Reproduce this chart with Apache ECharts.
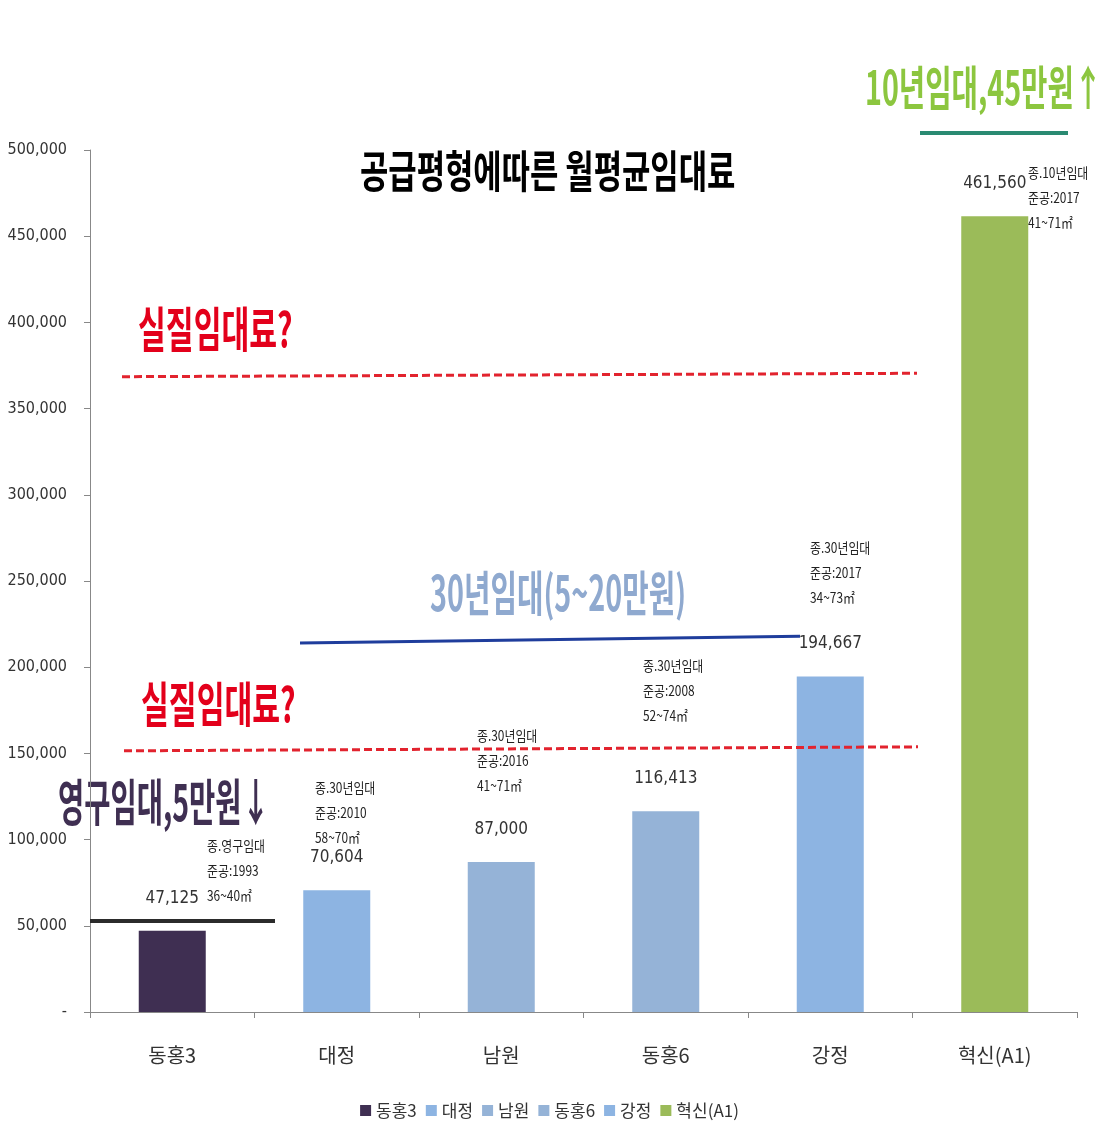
<!DOCTYPE html>
<html>
<head>
<meta charset="utf-8">
<script src="https://cdn.jsdelivr.net/npm/echarts@6/dist/echarts.min.js"></script>
<style>
  html, body { margin: 0; padding: 0; background: #fff; }
  #chart { width: 1099px; height: 1126px; }
</style>
</head>
<body>
<div id="chart"></div>
<script>
// 단지별 데이터
const categories = ['동홍3', '대정', '남원', '동홍6', '강정', '혁신(A1)'];
const rents = [47125, 70604, 87000, 116413, 194667, 461560];
const yTicks = [0, 50000, 100000, 150000, 200000, 250000, 300000, 350000, 400000, 450000, 500000];
const noteTypes = ['종.영구임대', '종.30년임대', '종.30년임대', '종.30년임대', '종.30년임대', '종.10년임대'];
const noteYears = ['준공:1993', '준공:2010', '준공:2016', '준공:2008', '준공:2017', '준공:2017'];
const noteSizes = ['36~40㎡', '58~70㎡', '41~71㎡', '52~74㎡', '34~73㎡', '41~71㎡'];
// 기준선 (시작값, 끝값)
const realRentHigh = [368500, 370500];
const realRentLow = [151500, 153800];
const rent30Line = [214000, 218000];
const rentPermLine = [52800, 52800];

const colors = ['#3f2f52', '#8db4e2', '#95b3d7', '#95b3d7', '#8db4e2', '#9bbb59'];
const numFont = '"DejaVu Sans Condensed", "Liberation Sans Narrow", sans-serif';
const krFont = '"Noto Sans CJK KR", sans-serif';

let myChart = echarts.init(document.getElementById('chart'));

function hline(vals, x1, x2, color, width, type) {
    return [
        { x: x1, yAxis: vals[0], lineStyle: { color: color, width: width, type: type } },
        { x: x2, yAxis: vals[1] }
    ];
}

let series = categories.map(function (name, i) {
    return {
        name: name,
        type: 'bar',
        stack: 'rent',
        barWidth: 67,
        data: rents.map(function (v, j) { return j === i ? v : '-'; }),
        itemStyle: { color: colors[i] },
        label: {
            show: true,
            position: 'top',
            distance: 24,
            color: '#333',
            fontSize: 17,
            fontFamily: numFont,
            formatter: function (p) { return p.value.toLocaleString('en-US'); }
        }
    };
});

series[0].markLine = {
    silent: true,
    symbol: 'none',
    label: { show: false },
    data: [
        hline(realRentHigh, 122, 917, '#e2232e', 3, [8, 4]),
        hline(realRentLow, 124, 918, '#e2232e', 3, [8, 4]),
        hline(rent30Line, 300, 800, '#1f3d9c', 3, 'solid'),
        hline(rentPermLine, 90, 275, '#2b2b2b', 4, 'solid'),
        // 차트 영역 위쪽 표시선
        [
            { x: 920, y: 133, lineStyle: { color: '#2a8a72', width: 4, type: 'solid' } },
            { x: 1068, y: 133 }
        ]
    ]
};

// 주석 텍스트
const notePos = [[207, 845], [315, 787], [477, 735], [643, 665], [810, 547], [1028, 172]];
let graphics = notePos.map(function (p, i) {
    return {
        type: 'text',
        x: p[0],
        y: p[1] - 12,
        style: {
            text: noteTypes[i] + '\n' + noteYears[i] + '\n' + noteSizes[i],
            fontSize: 14,
            fontFamily: krFont,
            lineHeight: 25,
            fill: '#222',
            verticalAlign: 'top'
        },
        scaleX: 0.85
    };
});

function bigText(text, x, y, color, size, scale) {
    return {
        type: 'text',
        x: x,
        y: y,
        scaleX: scale,
        style: {
            text: text,
            fontSize: size,
            fontWeight: 'bold',
            fontFamily: krFont,
            fill: color,
            verticalAlign: 'middle'
        }
    };
}

graphics.push(
    bigText('공급평형에따른 월평균임대료', 360, 171, '#000', 44, 0.70),
    bigText('실질임대료?', 138, 329, '#e3001b', 48, 0.63),
    bigText('실질임대료?', 141, 704, '#e3001b', 48, 0.63),
    bigText('영구임대,5만원↓', 58, 802, '#3f2f52', 50, 0.57),
    bigText('30년임대(5~20만원)', 430, 593, '#8fa9cf', 48, 0.6),
    bigText('10년임대,45만원↑', 865, 87, '#8cc63f', 47, 0.61)
);

myChart.setOption({
    animation: false,
    grid: { left: 90, right: 22, top: 150, bottom: 114, containLabel: false },
    legend: {
        bottom: 2,
        left: 'center',
        icon: 'rect',
        itemWidth: 11,
        itemHeight: 11,
        itemGap: 9,
        textStyle: { fontSize: 17, color: '#333', fontFamily: krFont },
        data: categories
    },
    xAxis: {
        type: 'category',
        data: categories,
        axisLine: { lineStyle: { color: '#888' } },
        axisTick: { show: true, length: 6, lineStyle: { color: '#888' } },
        axisLabel: { margin: 33, fontSize: 20, color: '#333', fontFamily: krFont }
    },
    yAxis: {
        type: 'value',
        min: yTicks[0],
        max: yTicks[yTicks.length - 1],
        interval: yTicks[1] - yTicks[0],
        splitLine: { show: false },
        axisLine: { show: true, lineStyle: { color: '#888' } },
        axisTick: { show: true, length: 6, lineStyle: { color: '#888' } },
        axisLabel: {
            margin: 23,
            fontSize: 16,
            color: '#333',
            fontFamily: numFont,
            formatter: function (v) { return v === 0 ? '-' : v.toLocaleString('en-US'); }
        }
    },
    graphic: graphics,
    series: series
});
</script>
</body>
</html>
